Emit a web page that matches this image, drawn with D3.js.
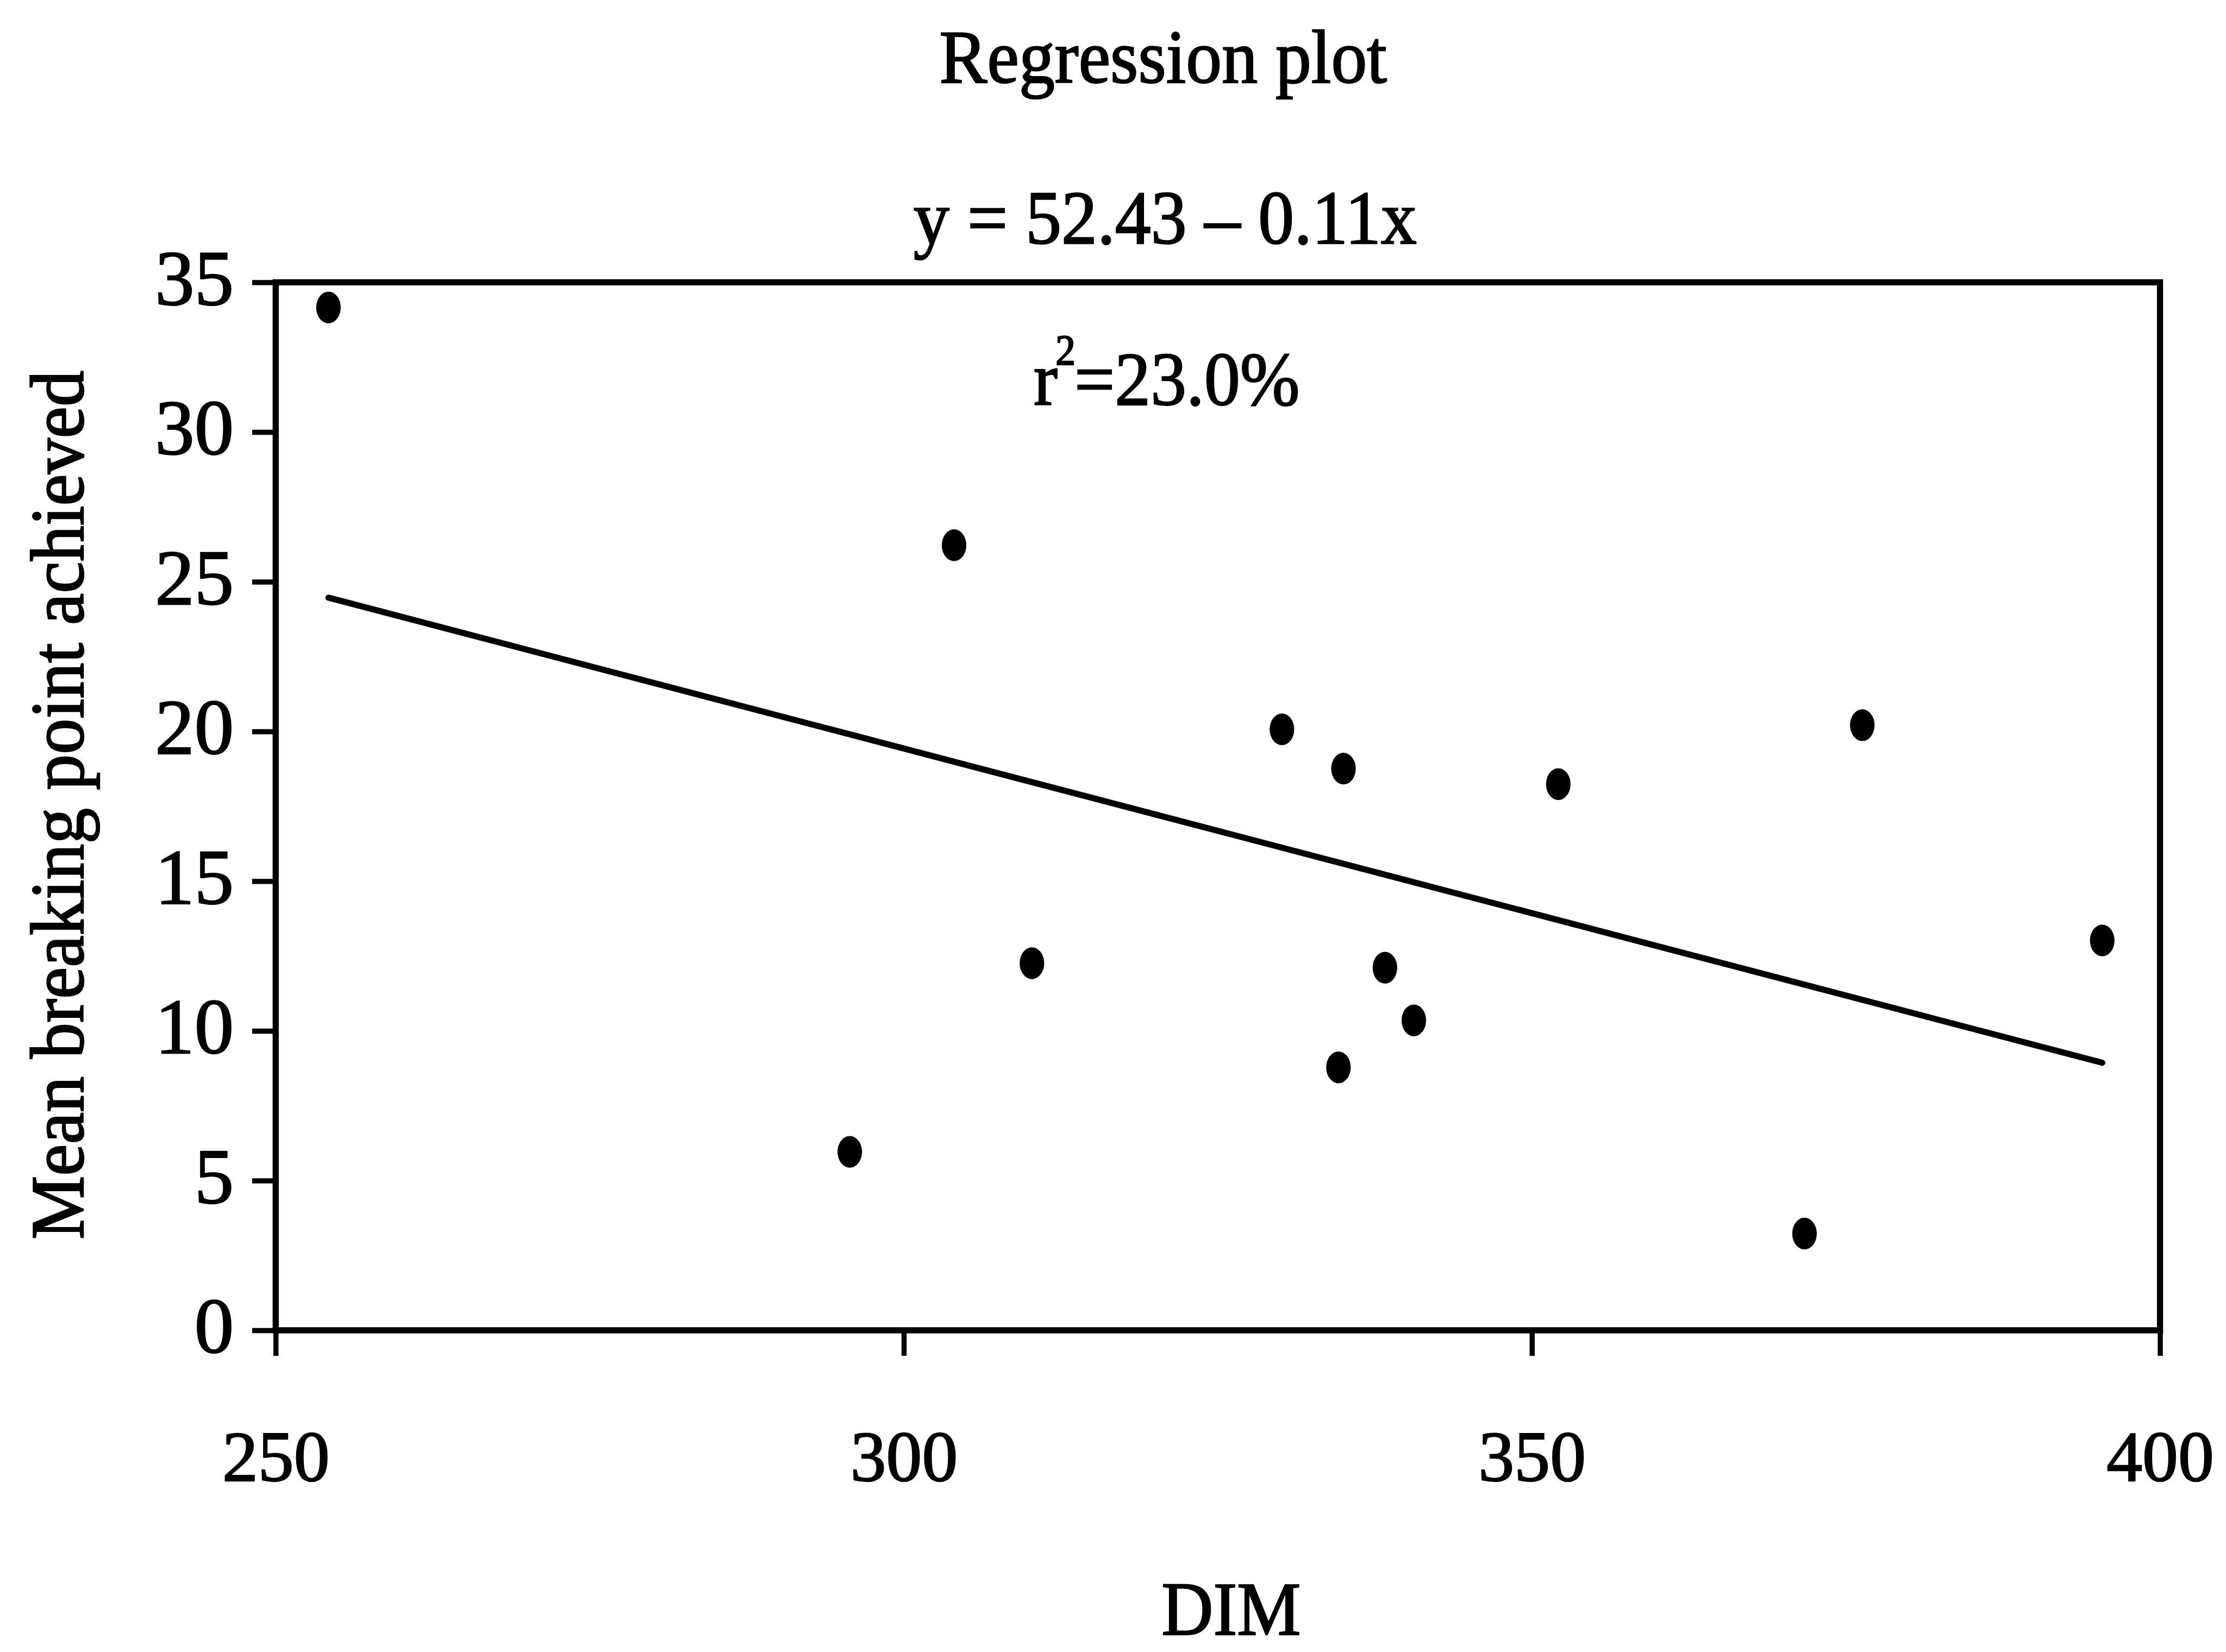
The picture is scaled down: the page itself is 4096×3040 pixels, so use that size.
<!DOCTYPE html>
<html>
<head>
<meta charset="utf-8">
<script src="https://cdn.jsdelivr.net/npm/d3@7"></script>
<style>
  html, body { margin: 0; padding: 0; background: #fff; }
  svg { display: block; }
</style>
</head>
<body>
<svg id="chart" width="4096" height="3040"></svg>
<script>
// DIM (x) and mean breaking point achieved (y) for each observation
const dimValues = [254.2, 304.0, 310.2, 295.7, 330.1, 335.0, 334.6, 338.3, 340.6, 352.1, 376.3, 371.7, 395.4];
const breakingPoint = [34.16, 26.22, 12.26, 5.96, 20.07, 18.76, 8.78, 12.11, 10.35, 18.24, 20.21, 3.23, 13.02];

// Axis ticks
const xTicks = [250, 300, 350, 400];
const yTicks = [0, 5, 10, 15, 20, 25, 30, 35];

// Fitted line: y = 52.43 - 0.11x
const intercept = 52.43;
const slope = -0.11;

const titleText = "Regression plot";
const equationText = "y = 52.43 \u2013 0.11x";
const rSquaredValue = "23.0%";
const xLabel = "DIM";
const yLabel = "Mean breaking point achieved";

// Layout is written in a 4352 x 3230 design space and scaled to the window
const k = 4096 / 4352;
const fontFamily = "'Liberation Serif', 'Times New Roman', Times, serif";
const fontSize = 140;
const textStroke = 2.5;
const frame = { left: 539, right: 4223, top: 552, bottom: 2601 };

const svg = d3.select("#chart");
svg.append("rect").attr("width", 4096).attr("height", 3040).attr("fill", "#fff");
const g = svg.append("g").attr("transform", `scale(${k})`);

const x = d3.scaleLinear().domain([250, 400]).range([frame.left, frame.right]);
const y = d3.scaleLinear().domain([0, 35]).range([frame.bottom, frame.top]);

// Bottom axis
const xAxis = g.append("g")
  .attr("transform", `translate(0,${y(0)})`)
  .call(d3.axisBottom(x).tickValues(xTicks).tickSize(50).tickSizeOuter(0).tickFormat(d3.format("d")));
xAxis.select(".domain").remove();
xAxis.attr("font-family", fontFamily).attr("font-size", fontSize);
xAxis.selectAll(".tick line").attr("stroke", "#000").attr("stroke-width", 10);
xAxis.selectAll(".tick text")
  .attr("fill", "#000").attr("stroke", "#000").attr("stroke-width", textStroke)
  .attr("y", 294).attr("dy", null);

// Left axis
const yAxis = g.append("g")
  .attr("transform", `translate(${x(250)},0)`)
  .call(d3.axisLeft(y).tickValues(yTicks).tickSize(46).tickPadding(36).tickSizeOuter(0).tickFormat(d3.format("d")));
yAxis.select(".domain").remove();
yAxis.attr("font-family", fontFamily).attr("font-size", 154);
yAxis.selectAll(".tick line").attr("stroke", "#000").attr("stroke-width", 10);
yAxis.selectAll(".tick text")
  .attr("fill", "#000").attr("stroke", "#000").attr("stroke-width", textStroke)
  .attr("dy", "0.28em");

// Plot frame
g.append("rect")
  .attr("x", x(250)).attr("y", y(35))
  .attr("width", x(400) - x(250)).attr("height", y(0) - y(35))
  .attr("fill", "none").attr("stroke", "#000").attr("stroke-width", 12);

// Regression line across the observed DIM range
const [xMin, xMax] = d3.extent(dimValues);
const fitLine = d3.line().x(d => x(d)).y(d => y(intercept + slope * d));
g.append("path")
  .datum([xMin, xMax])
  .attr("d", fitLine)
  .attr("fill", "none").attr("stroke", "#000").attr("stroke-width", 12)
  .attr("stroke-linecap", "round");

// Observations
const points = dimValues.map((d, i) => ({ dim: d, bp: breakingPoint[i] }));
g.append("g").selectAll("ellipse")
  .data(points)
  .join("ellipse")
  .attr("cx", d => x(d.dim))
  .attr("cy", d => y(d.bp))
  .attr("rx", 24)
  .attr("ry", 31)
  .attr("fill", "#000");

// Titles and annotations (glyphs drawn slightly tall, as in the printed figure)
const label = (tx, ty, extra = "") => g.append("text")
  .attr("transform", `translate(${tx},${ty}) ${extra} scale(1,1.06)`)
  .attr("font-family", fontFamily).attr("font-size", fontSize)
  .attr("fill", "#000").attr("stroke", "#000").attr("stroke-width", textStroke)
  .attr("text-anchor", "middle");

label(2274, 162).text(titleText);
label(2278, 476).text(equationText);

const r2 = label(2281, 792);
r2.append("tspan").text("r");
r2.append("tspan").attr("font-size", 78).attr("dx", -4).attr("dy", -76).text("2");
r2.append("tspan").attr("dx", -2).attr("dy", 76).text("=" + rSquaredValue);

label(2407, 3196).text(xLabel);
label(163, 1574, "rotate(-90)").text(yLabel);
</script>
</body>
</html>
